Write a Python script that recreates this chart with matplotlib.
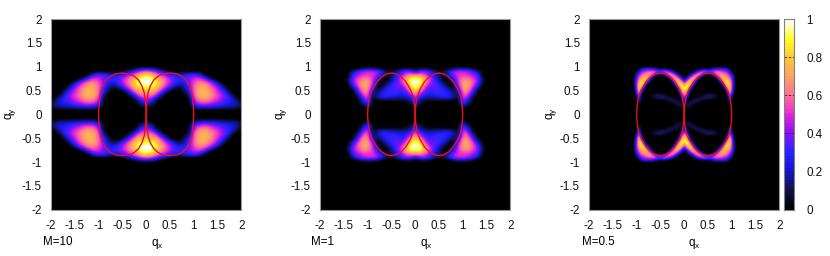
import numpy as np
import matplotlib
matplotlib.use('Agg')
from matplotlib import pyplot as plt
from matplotlib.colors import LinearSegmentedColormap

plt.rcParams['font.family'] = ['Liberation Sans', 'DejaVu Sans']
plt.rcParams['mathtext.fontset'] = 'custom'
plt.rcParams['mathtext.rm'] = 'Liberation Sans'
plt.rcParams['mathtext.it'] = 'Liberation Sans'

# upper right quadrant of each map, rows from qy=1 down to qy=0 in steps of 0.05
# trailing zeros left out of each row
m10 = [
    [0],
    [.3, .27, .15, .03],
    [.58, .52, .4, .28, .14, .03],
    [.78, .72, .58, .45, .33, .25, .18, .12, .2, .25, .28, .2],
    [.93, .87, .72, .58, .46, .36, .28, .28, .3, .35, .4, .38, .2],
    [1, .96, .82, .68, .55, .43, .33, .3, .32, .38, .48, .52, .42, .2],
    [1, 1, .88, .72, .58, .44, .33, .25, .3, .4, .52, .6, .55, .42, .25],
    [.98, .98, .88, .72, .56, .42, .28, .2, .25, .38, .56, .66, .66, .55, .42, .22],
    [.92, .93, .85, .68, .52, .35, .2, .1, .2, .36, .6, .7, .72, .62, .5, .35, .08],
    [.85, .86, .78, .6, .42, .2, .05, .05, .15, .33, .6, .72, .75, .68, .56, .42, .22],
    [.76, .78, .7, .5, .25, .03, 0, 0, .08, .3, .6, .72, .76, .7, .6, .46, .33, .1],
    [.68, .7, .58, .34, .08, 0, 0, 0, .03, .22, .6, .72, .76, .72, .6, .5, .38, .2],
    [.6, .6, .45, .15, 0, 0, 0, 0, 0, .12, .58, .72, .76, .72, .62, .52, .42, .3, .08],
    [.5, .48, .25, .03, 0, 0, 0, 0, 0, .05, .52, .68, .72, .68, .58, .5, .4, .32, .2, .02],
    [.4, .35, .08, 0, 0, 0, 0, 0, 0, 0, .45, .62, .65, .62, .52, .46, .37, .3, .24, .1],
    [.3, .2, .02, 0, 0, 0, 0, 0, 0, 0, .38, .52, .56, .52, .45, .4, .33, .27, .22, .17, .03],
    [.2, .1, 0, 0, 0, 0, 0, 0, 0, 0, .28, .38, .42, .4, .35, .3, .26, .22, .2, .17, .05],
    [.08, .02, 0, 0, 0, 0, 0, 0, 0, 0, .12, .2, .22, .22, .2, .18, .16, .14, .13, .1, .04],
    [0, 0, 0, 0, 0, 0, 0, 0, 0, 0, .02, .03, .04, .04, .03, .03, .02, .02, .02, .01],
    [0],
    [0],
]
m1 = [
    [0],
    [0, .1, .12, .06, 0, 0, 0, 0, .15, .22, .22, .18, .06],
    [.25, .4, .42, .28, .15, .05, .08, .25, .42, .48, .48, .44, .35, .15],
    [.5, .55, .5, .34, .2, .12, .08, .25, .44, .5, .5, .48, .4, .3],
    [.78, .75, .62, .42, .27, .1, 0, .14, .38, .5, .56, .55, .46, .38],
    [.93, .9, .72, .5, .32, .12, 0, .03, .3, .52, .63, .63, .52, .42, .08],
    [1, .97, .72, .48, .32, .17, .02, 0, .18, .52, .68, .68, .57, .42, .08],
    [1, .95, .65, .42, .35, .25, .1, 0, .08, .5, .72, .72, .57, .38, .03],
    [.97, .88, .55, .37, .36, .31, .18, .03, 0, .44, .72, .72, .55, .28],
    [.9, .78, .45, .32, .35, .33, .25, .12, 0, .33, .7, .7, .45, .15],
    [.82, .65, .37, .3, .33, .33, .29, .2, .06, .2, .68, .65, .38],
    [.72, .5, .3, .27, .31, .31, .31, .25, .12, .1, .65, .58, .25],
    [.62, .36, .24, .22, .25, .28, .3, .28, .16, .05, .6, .5, .12],
    [.5, .22, .16, .15, .17, .19, .23, .22, .13, .03, .55, .38, .02],
    [.38, .14, .08, .05, .06, .06, .06, .05, .02, 0, .48, .25],
    [.26, .08, .02, 0, 0, 0, 0, 0, 0, 0, .4, .14],
    [.14, .03, 0, 0, 0, 0, 0, 0, 0, 0, .25, .05],
    [.05, 0, 0, 0, 0, 0, 0, 0, 0, 0, .1],
    [0, 0, 0, 0, 0, 0, 0, 0, 0, 0, .02],
    [0],
    [0],
]
# this one is finer in qx, 0.05 per column
m05 = [
    [0],
    [0, 0, 0, 0, 0, 0, 0, .03, .08, .08, .05, .1, .2, .28, .33, .33, .33, .3, .2, .05],
    [0, 0, 0, 0, .05, .2, .35, .5, .6, .55, .5, .45, .55, .6, .55, .55, .5, .45, .4, .2, .05],
    [0, 0, .03, .15, .35, .55, .7, .6, .3, .15, .1, .15, .3, .55, .7, .7, .65, .58, .52, .38, .15],
    [0, .05, .25, .45, .65, .72, .5, .15, 0, 0, 0, 0, 0, .15, .45, .7, .75, .72, .62, .5, .3, .03],
    [.05, .25, .5, .72, .75, .45, .1, 0, 0, 0, 0, 0, 0, 0, .2, .5, .78, .78, .7, .6, .35, .05],
    [.25, .55, .75, .8, .55, .15, 0, 0, 0, 0, 0, 0, 0, 0, 0, .25, .65, .85, .82, .7, .42, .07],
    [.5, .8, .9, .7, .25, 0, 0, 0, 0, 0, 0, 0, 0, 0, 0, 0, .3, .75, .9, .78, .45, .08],
    [.75, .95, .82, .35, .05, 0, 0, 0, 0, 0, 0, 0, 0, 0, 0, 0, 0, .4, .88, .82, .45, .05],
    [.9, .92, .5, .1, 0, 0, 0, 0, 0, 0, 0, 0, 0, 0, 0, 0, 0, .15, .65, .85, .42, .03],
    [.85, .75, .25, .02, 0, 0, 0, 0, 0, 0, 0, 0, 0, 0, 0, 0, 0, 0, .35, .8, .35, .02],
    [.75, .55, .1, 0, 0, 0, 0, 0, 0, 0, 0, 0, 0, 0, 0, 0, 0, 0, .15, .7, .25],
    [.6, .35, .03, 0, 0, 0, 0, 0, .07, .1, .14, .14, .12, .08, .03, 0, 0, 0, 0, .55, .12],
    [.45, .15, 0, 0, 0, .02, .08, .12, .14, .14, .12, .1, .08, .05, .02, 0, 0, 0, 0, .35, .04],
    [.3, .07, .01, .03, .1, .14, .12, .07, .03, 0, 0, 0, 0, 0, 0, 0, 0, 0, 0, .2, .02],
    [.18, .03, .07, .12, .1, .04, 0, 0, 0, 0, 0, 0, 0, 0, 0, 0, 0, 0, 0, .1],
    [.08, .07, .12, .07, .02, 0, 0, 0, 0, 0, 0, 0, 0, 0, 0, 0, 0, 0, 0, .04],
    [.02, .07, .04, .01],
    [0],
    [0],
    [0],
]

# one quarter of the red contour, from qx=0 to the top at qx=0.5
contour_wide_x = [0, .01, .04, .09, .16, .25, .36, .5]
contour_wide_y = [0, .2, .45, .6, .72, .8, .85, .865]
contour_x = [0, .01, .04, .1, .2, .3, .4, .5]
contour_y = [0, .17, .37, .52, .69, .79, .85, .865]

ticks = [-2, -1.5, -1, -0.5, 0, 0.5, 1, 1.5, 2]
tick_labels = ['-2', '-1.5', '-1', '-0.5', '0', '0.5', '1', '1.5', '2']
cb_ticks = [0, 0.2, 0.4, 0.6, 0.8, 1]
cb_labels = ['0', '0.2', '0.4', '0.6', '0.8', '1']
titles = ['M=10', 'M=1', 'M=0.5']

palette = ['#000000', '#12124a', '#1414d8', '#2a22ff', '#8a10f8', '#e428d8',
           '#ff6a98', '#ffa268', '#ffc438', '#ffff20', '#ffffff']
cmap = LinearSegmentedColormap.from_list('pal', palette, N=256)


def full_map(rows, dx):
    # pad to the plot edges and mirror the quadrant to all four
    ncol = int(round(2 / dx)) + 1
    q = np.zeros((len(rows), ncol))
    for i, r in enumerate(rows):
        q[i, :len(r)] = r
    top = np.zeros((20, ncol))
    q = np.vstack([top, q])
    q = np.hstack([q[:, :0:-1], q])
    return np.vstack([q, q[-2::-1]])


def contour(ax, xs, ys, color):
    x = np.array(xs + [1 - v for v in xs[-2::-1]])
    y = np.array(ys + ys[-2::-1])
    for sx in (-1, 1):
        ax.plot(sx * np.r_[x, x[::-1]], np.r_[y, -y[::-1]], color=color, lw=1.0)


W, H = 830, 256
fig = plt.figure(figsize=(W / 100, H / 100), dpi=100)


def add_axes(x0, x1, y0, y1):
    return fig.add_axes([x0 / W, 1 - y1 / H, (x1 - x0) / W, (y1 - y0) / H])


panels = [
    (m10, 0.1, contour_wide_x, contour_wide_y, (51, 241.3), 157.5, 11, 42.5),
    (m1, 0.1, contour_x, contour_y, (320, 510.3), 426, 281.5, 311.5),
    (m05, 0.05, contour_x, contour_y, (589, 779.3), 694.5, 551.5, 581.5),
]
for (data, dx, cx, cy, (x0, x1), xl, yl, ml), title in zip(panels, titles):
    ax = add_axes(x0, x1, 19, 209.7)
    ax.imshow(full_map(data, dx), cmap=cmap, vmin=0, vmax=1, origin='upper',
              extent=[-2 - dx / 2, 2 + dx / 2, -2 - .025, 2 + .025],
              aspect='auto', interpolation='bicubic', interpolation_stage='data')
    contour(ax, cx, cy, '#e8101c')
    ax.set_xlim(-2, 2)
    ax.set_ylim(-2, 2)
    ax.set_xticks(ticks)
    ax.set_xticklabels(tick_labels)
    ax.set_yticks(ticks)
    ax.set_yticklabels(tick_labels)
    ax.tick_params(length=0, labelsize=8.4, colors='#111111')
    ax.tick_params(axis='x', pad=7.5)
    ax.tick_params(axis='y', pad=6.5)
    for s in ax.spines.values():
        s.set_color('#999999')
        s.set_linewidth(0.8)
    fig.text(xl / W, 1 - 244 / H, r'q$_{\mathrm{x}}$', ha='center', va='center', fontsize=8.4)
    fig.text(yl / W, 1 - 114 / H, r'q$_{\mathrm{y}}$', ha='center', va='center',
             rotation=90, fontsize=8.4)
    fig.text(ml / W, 1 - 242 / H, title, ha='left', va='center', fontsize=8.4)

cax = add_axes(783.5, 793.5, 19, 209.7)
cb_values = np.linspace(1, 0, 64)[:, None]
cax.imshow(cb_values, cmap=cmap, vmin=0, vmax=1, aspect='auto', extent=[0, 1, 0, 1],
           interpolation='nearest')
cax.set_xticks([])
cax.yaxis.tick_right()
cax.set_yticks(cb_ticks)
cax.set_yticklabels(cb_labels)
cax.tick_params(length=0, labelsize=8.4, pad=9, colors='#111111')
for t in cb_ticks[1:-1]:
    cax.axhline(t, color='#222222', lw=0.6, ls=(0, (3, 2)))
for s in cax.spines.values():
    s.set_color('#808080')
    s.set_linewidth(0.8)

fig.savefig('out.png', dpi=100)
